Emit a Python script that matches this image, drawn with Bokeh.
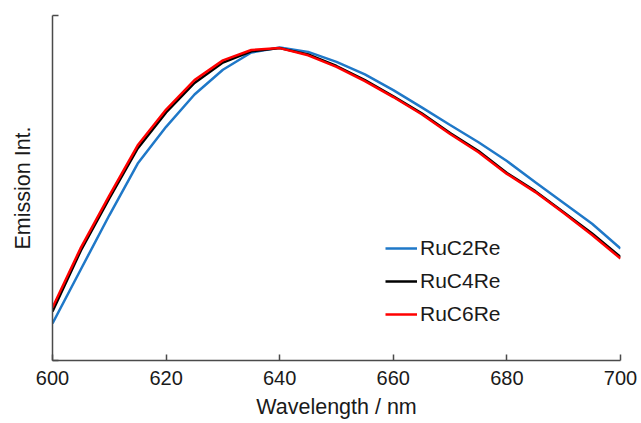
from bokeh.plotting import figure
from bokeh.models import Legend, LegendItem, Range1d, FixedTicker
from bokeh.embed import file_html
from bokeh.resources import INLINE

# Emission spectra (normalised intensity) sampled every 5 nm
wavelength = [600, 605, 610, 615, 620, 625, 630, 635, 640, 645, 650,
              655, 660, 665, 670, 675, 680, 685, 690, 695, 700]
ruc2re = [0.118, 0.291, 0.463, 0.628, 0.745, 0.848, 0.927, 0.982, 0.998, 0.984, 0.952,
          0.912, 0.862, 0.807, 0.751, 0.696, 0.636, 0.568, 0.502, 0.436, 0.357]
ruc4re = [0.156, 0.351, 0.517, 0.676, 0.791, 0.885, 0.950, 0.986, 0.996, 0.976, 0.939,
          0.894, 0.842, 0.788, 0.725, 0.668, 0.598, 0.540, 0.473, 0.405, 0.330]
ruc6re = [0.169, 0.360, 0.526, 0.686, 0.800, 0.894, 0.957, 0.990, 0.996, 0.973, 0.936,
          0.891, 0.840, 0.785, 0.722, 0.664, 0.595, 0.537, 0.470, 0.400, 0.325]

x_ticks = [600, 620, 640, 660, 680, 700]
series_names = ["RuC2Re", "RuC4Re", "RuC6Re"]
series_colors = ["#1f78c8", "#000000", "#ff0000"]

FONT = "Liberation Sans"
AXIS_COLOR = "#4a4a4a"
TEXT_COLOR = "#1a1a1a"

p = figure(width=641, height=423, output_backend="svg", toolbar_location=None, title=None,
           x_range=Range1d(600, 700), y_range=Range1d(0, 1.1),
           min_border_left=52, min_border_right=21, min_border_top=15, min_border_bottom=63)
p.outline_line_color = None
p.grid.visible = False
p.background_fill_color = "white"
p.border_fill_color = "white"

# x axis
xa = p.xaxis[0]
xa.ticker = FixedTicker(ticks=x_ticks)
xa.minor_tick_line_color = None
xa.major_tick_in = 6
xa.major_tick_out = 0
xa.axis_line_color = AXIS_COLOR
xa.axis_line_width = 1.5
xa.major_tick_line_color = AXIS_COLOR
xa.major_tick_line_width = 1.5
xa.major_label_text_font = FONT
xa.major_label_text_font_size = "20px"
xa.major_label_text_color = TEXT_COLOR
xa.major_label_standoff = 10
xa.axis_label = "Wavelength / nm"
xa.axis_label_text_font = FONT
xa.axis_label_text_font_size = "21.5px"
xa.axis_label_text_font_style = "normal"
xa.axis_label_text_color = TEXT_COLOR
xa.axis_label_standoff = 7

# y axis: a bare intensity scale, ticks only, no numbers
ya = p.yaxis[0]
ya.ticker = FixedTicker(ticks=[0, 1.1])
ya.major_label_overrides = {0: "", 1.1: ""}
ya.minor_tick_line_color = None
ya.major_tick_in = 6
ya.major_tick_out = 0
ya.axis_line_color = AXIS_COLOR
ya.axis_line_width = 1.5
ya.major_tick_line_color = AXIS_COLOR
ya.major_tick_line_width = 1.5
ya.major_label_standoff = 0
ya.axis_label = "Emission Int."
ya.axis_label_text_font = FONT
ya.axis_label_text_font_size = "21.5px"
ya.axis_label_text_font_style = "normal"
ya.axis_label_text_color = TEXT_COLOR
ya.axis_label_standoff = 18

renderers = []
for ys, c in zip([ruc2re, ruc4re, ruc6re], series_colors):
    r = p.line(wavelength, ys, line_color=c, line_width=2.5)
    renderers.append(r)

legend = Legend(items=[LegendItem(label=n, renderers=[r]) for n, r in zip(series_names, renderers)],
                location=(333, 34), orientation="vertical",
                border_line_color=None, background_fill_alpha=0,
                padding=0, margin=0, spacing=9,
                glyph_width=32, glyph_height=24, label_height=24,
                label_standoff=3,
                label_text_font=FONT, label_text_font_size="21px",
                label_text_color=TEXT_COLOR)
p.add_layout(legend, "center")

open("out.html", "w").write(file_html(p, INLINE))
